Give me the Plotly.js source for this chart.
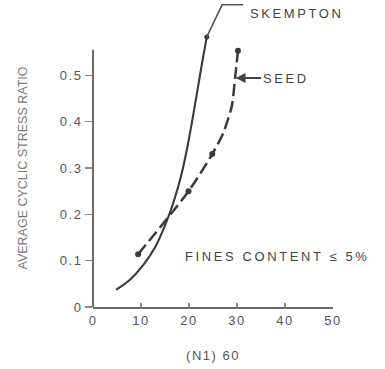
<!DOCTYPE html>
<html>
<head>
<meta charset="utf-8">
<script src="https://cdn.plot.ly/plotly-3.0.1.min.js"></script>
<style>
  body { margin: 0; padding: 0; background: #fff; }
  #chart { width: 385px; height: 369px; }
  .annotation-text { letter-spacing: 2.6px; }
  .xtick text, .ytick text { letter-spacing: 1.5px; }
  .xtitle { letter-spacing: 1.5px; }
</style>
</head>
<body>
<div id="chart"></div>
<script>
// Skempton curve (solid)
const skemptonX = [4.8, 7.7, 10.5, 13.0, 15.0, 16.5, 17.7, 18.7, 19.6, 20.5, 21.5, 22.6, 23.7];
const skemptonY = [0.037, 0.059, 0.091, 0.13, 0.176, 0.218, 0.258, 0.298, 0.342, 0.392, 0.452, 0.519, 0.583];

// Seed curve (dashed)
const seedX = [9.4, 19.9, 24.85, 27.1, 28.9, 29.6, 30.2];
const seedY = [0.114, 0.25, 0.33, 0.375, 0.433, 0.494, 0.553];

// Seed data points (dots)
const seedPtX = [9.4, 19.9, 24.85, 30.2];
const seedPtY = [0.114, 0.25, 0.33, 0.553];

const xTicks = [0, 10, 20, 30, 40, 50];
const yTicks = [0, 0.1, 0.2, 0.3, 0.4, 0.5];

const lineCol = '#3a3a3a';
const textCol = '#555555';
const fontFam = 'Liberation Sans, Arial, sans-serif';

const traces = [
  {
    x: skemptonX, y: skemptonY, type: 'scatter', mode: 'lines',
    line: { color: lineCol, width: 2.1, shape: 'spline', smoothing: 0.6 },
    hoverinfo: 'skip', showlegend: false
  },
  {
    x: [skemptonX[skemptonX.length - 1]], y: [skemptonY[skemptonY.length - 1]],
    type: 'scatter', mode: 'markers', cliponaxis: false,
    marker: { color: lineCol, size: 5, symbol: 'circle' },
    hoverinfo: 'skip', showlegend: false
  },
  {
    x: seedX, y: seedY, type: 'scatter', mode: 'lines',
    line: { color: lineCol, width: 2.5, dash: '12px,5px', shape: 'spline', smoothing: 0.7 },
    hoverinfo: 'skip', showlegend: false
  },
  {
    x: seedPtX, y: seedPtY, type: 'scatter', mode: 'markers', cliponaxis: false,
    marker: { color: lineCol, size: 6 },
    hoverinfo: 'skip', showlegend: false
  }
];

const skX = skemptonX[skemptonX.length - 1];
const skYp = skemptonY[skemptonY.length - 1] / 0.6;

const layout = {
  width: 385, height: 369,
  margin: { l: 93, r: 52, t: 29, b: 62 },
  paper_bgcolor: '#ffffff', plot_bgcolor: '#ffffff',
  font: { family: fontFam, color: textCol, size: 13 },
  showlegend: false,
  xaxis: {
    range: [0, 50], tickvals: xTicks, ticktext: xTicks.map(String),
    showgrid: false, zeroline: false,
    showline: true, linecolor: '#6a6a6a', linewidth: 2,
    ticks: 'inside', ticklen: 4, tickwidth: 1.5, tickcolor: '#8a8a8a',
    tickfont: { size: 13, color: textCol },
    title: { text: '(N1) 60', standoff: 24, font: { size: 13, color: textCol } },
    fixedrange: true
  },
  yaxis: {
    range: [0, 0.6], tickvals: yTicks, ticktext: yTicks.map(v => v === 0 ? '0' : v.toFixed(1)),
    showgrid: false, zeroline: false, showline: false,
    ticks: 'outside', ticklen: 7, tickwidth: 1.5, tickcolor: '#8a8a8a',
    tickfont: { size: 13, color: textCol },
    title: { text: 'AVERAGE CYCLIC STRESS RATIO', standoff: 29, font: { size: 12.5, color: '#7a7a7a' } },
    fixedrange: true
  },
  shapes: [
    { type: 'line', xref: 'paper', yref: 'y', x0: 0, x1: 0, y0: 0, y1: 0.555,
      line: { color: '#6a6a6a', width: 2 } },
    { type: 'path', xref: 'x', yref: 'paper',
      path: 'M ' + skX + ',' + skYp + ' L 26.9,1.087 L 31.3,1.087',
      line: { color: '#555', width: 1.6 } }
  ],
  annotations: [
    { xref: 'x', yref: 'paper', x: 32.2, y: 1.054, xanchor: 'left', yanchor: 'middle',
      text: 'SKEMPTON', showarrow: false, font: { size: 13, color: '#444' } },
    { xref: 'x', yref: 'y', x: 29.7, y: 0.494, text: 'SEED', showarrow: true,
      ax: 50, ay: 0, arrowhead: 2, arrowsize: 1, arrowwidth: 2, arrowcolor: '#444',
      font: { size: 13, color: '#444' } },
    { xref: 'x', yref: 'y', x: 18.8, y: 0.11, xanchor: 'left', yanchor: 'middle',
      text: 'FINES CONTENT \u2264 5%', showarrow: false, font: { size: 13, color: '#444' } }
  ]
};

Plotly.newPlot('chart', traces, layout, { staticPlot: true, displayModeBar: false });
</script>
</body>
</html>
